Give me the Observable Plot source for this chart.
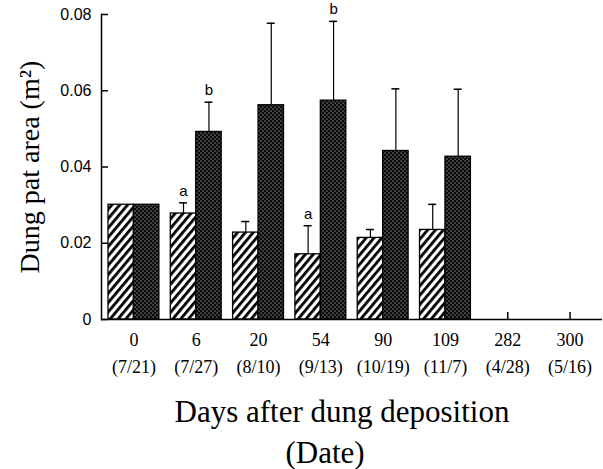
<!DOCTYPE html>
<html><head><meta charset="utf-8">
<script src="https://cdn.jsdelivr.net/npm/d3@7"></script>
<script src="https://cdn.jsdelivr.net/npm/@observablehq/plot@0.6"></script>
<style>body{margin:0;background:#fff} #chart svg{display:block}</style>
</head><body><div id="chart"></div>
<script>
// ---- data ----
const days = ["0", "6", "20", "54", "90", "109", "282", "300"];
const dates = ["7/21", "7/27", "8/10", "9/13", "10/19", "11/7", "4/28", "5/16"];
const hatchedMean = [0.0301, 0.0278, 0.0228, 0.0171, 0.0214, 0.0235, null, null];
const hatchedSE   = [null, 0.0028, 0.0029, 0.0075, 0.0022, 0.0067, null, null];
const dottedMean  = [0.0301, 0.0492, 0.0562, 0.0574, 0.0442, 0.0427, null, null];
const dottedSE    = [null, 0.0078, 0.0215, 0.0208, 0.0163, 0.0177, null, null];
const letterDays   = ["6", "6", "54", "54"];
const letterSeries = ["hatched", "dotted", "hatched", "dotted"];
const letterText   = ["a", "b", "a", "b"];
const yTicks = [0, 0.02, 0.04, 0.06, 0.08];
const yTickLabels = ["0", "0.02", "0.04", "0.06", "0.08"];
const yLabel = "Dung pat area (m²)";
const xTitle = "Days after dung deposition";
const xSubtitle = "(Date)";

// ---- tables built from arrays ----
const rows = days.map((d, i) => ({day: d, date: dates[i], hm: hatchedMean[i], hs: hatchedSE[i], dm: dottedMean[i], ds: dottedSE[i]}));
const hErr = rows.filter(r => r.hs != null);
const dErr = rows.filter(r => r.ds != null);
const letters = letterDays.map((d, i) => {
  const r = rows[days.indexOf(d)];
  const top = letterSeries[i] === "hatched" ? r.hm + r.hs : r.dm + r.ds;
  return {day: d, series: letterSeries[i], t: letterText[i], top};
});

// ---- layout ----
const W = 603, H = 469, mL = 101, mR = 1, mT = 14, mB = 150;
const frameW = W - mL - mR, frameH = H - mT - mB, tickLen = 7;
const padIn = 0.183, padOut = 0.112;
const bw = d3.scaleBand(days, [mL, W - mR]).paddingInner(padIn).paddingOuter(padOut).bandwidth();
const q = bw / 4, cap = 4;
const serif = "'Liberation Serif', 'Times New Roman', serif";
const sans = "'Liberation Sans', Arial, sans-serif";

const chart = Plot.plot({
  width: W, height: H,
  marginLeft: mL, marginRight: mR, marginTop: mT, marginBottom: mB,
  style: {background: "white", color: "black"},
  x: {domain: days, paddingInner: padIn, paddingOuter: padOut, round: false, label: null},
  y: {domain: [0, 0.08], label: null},
  marks: [
    Plot.axisX({tickSize: 0, tickPadding: 8, fontSize: 18, fontFamily: serif, lineHeight: 1.48,
      label: null, tickFormat: d => `${d}\n(${dates[days.indexOf(d)]})`}),
    Plot.axisY({ticks: yTicks, tickSize: 0, tickPadding: 10, fontSize: 16, fontFamily: sans,
      label: null, tickFormat: d => yTickLabels[yTicks.indexOf(d)]}),
    // inward ticks
    Plot.tickX(days, {x: d => d, insetTop: frameH - tickLen, stroke: "black", strokeWidth: 1.5}),
    Plot.tickY(yTicks, {y: d => d, insetRight: frameW - tickLen, stroke: "black", strokeWidth: 1.5}),
    Plot.barY(rows.filter(r => r.hm != null), {x: "day", y: "hm", fill: "url(#hatch)", stroke: "black", strokeWidth: 1.3, insetRight: bw / 2}),
    Plot.barY(rows.filter(r => r.dm != null), {x: "day", y: "dm", fill: "url(#dots)", stroke: "black", strokeWidth: 1.3, insetLeft: bw / 2}),
    Plot.ruleX(hErr, {x: "day", y1: "hm", y2: d => d.hm + d.hs, dx: -q, stroke: "black", strokeWidth: 1.2}),
    Plot.ruleX(dErr, {x: "day", y1: "dm", y2: d => d.dm + d.ds, dx: q, stroke: "black", strokeWidth: 1.2}),
    Plot.tickY(hErr, {x: "day", y: d => d.hm + d.hs, insetLeft: q - cap, insetRight: 3 * q - cap, stroke: "black", strokeWidth: 1.5}),
    Plot.tickY(dErr, {x: "day", y: d => d.dm + d.ds, insetLeft: 3 * q - cap, insetRight: q - cap, stroke: "black", strokeWidth: 1.5}),
    Plot.text(letters.filter(l => l.series === "hatched"), {x: "day", y: "top", text: "t", dx: -q, dy: -12, fontSize: 15, fontFamily: sans, fill: "black"}),
    Plot.text(letters.filter(l => l.series === "dotted"), {x: "day", y: "top", text: "t", dx: q, dy: -12, fontSize: 15, fontFamily: sans, fill: "black"}),
    Plot.ruleY([0], {stroke: "black", strokeWidth: 1.5}),
    Plot.frame({anchor: "left", stroke: "black", strokeWidth: 1.5}),
    Plot.text([yLabel], {frameAnchor: "left", textAnchor: "middle", lineAnchor: "middle", dx: -71, rotate: -90, fontSize: 28, fontFamily: serif, fill: "black"}),
    Plot.text([xTitle], {frameAnchor: "bottom", textAnchor: "middle", lineAnchor: "middle", dx: -10, dy: 93, fontSize: 31, fontFamily: serif, fill: "black"}),
    Plot.text([xSubtitle], {frameAnchor: "bottom", textAnchor: "middle", lineAnchor: "middle", dx: -27, dy: 134, fontSize: 31, fontFamily: serif, fill: "black"})
  ]
});

// patterns used as bar fills
const defs = d3.select(chart).insert("defs", ":first-child");
const hatch = defs.append("pattern").attr("id", "hatch").attr("patternUnits", "userSpaceOnUse")
  .attr("width", 6).attr("height", 6).attr("patternTransform", "rotate(40)");
hatch.append("rect").attr("width", 6).attr("height", 6).attr("fill", "white");
hatch.append("rect").attr("width", 2.8).attr("height", 6).attr("fill", "black");
const dots = defs.append("pattern").attr("id", "dots").attr("patternUnits", "userSpaceOnUse")
  .attr("width", 4).attr("height", 4);
dots.append("rect").attr("width", 4).attr("height", 4).attr("fill", "#0a0a0a");
dots.append("circle").attr("cx", 1).attr("cy", 1).attr("r", 0.55).attr("fill", "white");
dots.append("circle").attr("cx", 3).attr("cy", 3).attr("r", 0.55).attr("fill", "white");

document.getElementById("chart").append(chart);
</script>
</body></html>
